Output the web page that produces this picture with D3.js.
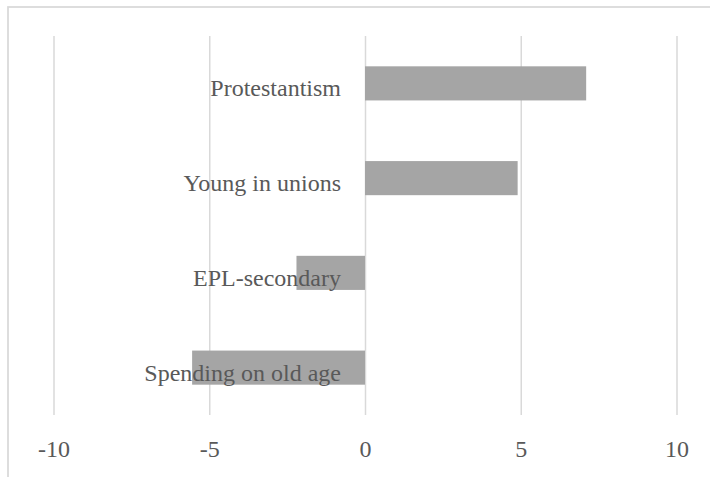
<!DOCTYPE html>
<html>
<head>
<meta charset="utf-8">
<script src="https://cdn.jsdelivr.net/npm/d3@7"></script>
<style>
  body { margin: 0; background: #fff; }
  svg { display: block; }
  text { font-family: "Liberation Serif", "Times New Roman", serif; fill: #595959; }
</style>
</head>
<body>
<svg id="chart" width="710" height="477"></svg>
<script>
// chart values
const categories = ["Protestantism", "Young in unions", "EPL-secondary", "Spending on old age"];
const values = [7.1, 4.9, -2.2, -5.55];
const tickValues = [-10, -5, 0, 5, 10];

const width = 710, height = 477;
const plot = { left: 53.5, right: 676.5, top: 36, bottom: 415 };

const svg = d3.select("#chart");

// outer frame (clipped by the window on the right and bottom)
svg.append("rect")
  .attr("x", 8)
  .attr("y", 7)
  .attr("width", 760)
  .attr("height", 520)
  .attr("fill", "none")
  .attr("stroke", "#d9d9d9")
  .attr("stroke-width", 1.75);

const x = d3.scaleLinear()
  .domain([-10, 10])
  .range([plot.left, plot.right]);

const y = d3.scaleBand()
  .domain(categories)
  .range([plot.top, plot.bottom])
  .paddingInner(0.64)
  .paddingOuter(0.32);

// gridlines + tick labels
const axis = svg.append("g")
  .attr("transform", `translate(0,${plot.bottom})`)
  .call(d3.axisBottom(x)
    .tickValues(tickValues)
    .tickSize(-(plot.bottom - plot.top))
    .tickFormat(d => String(d)));

axis.select(".domain").remove();
axis.selectAll(".tick line")
  .attr("stroke", "#d9d9d9")
  .attr("stroke-width", 1.5);
axis.selectAll(".tick text")
  .attr("y", 42)
  .attr("dy", 0)
  .attr("font-size", 24)
  .attr("fill", "#595959")
  .style("font-family", "'Liberation Serif', 'Times New Roman', serif");

// bars
svg.append("g")
  .selectAll("rect")
  .data(categories)
  .join("rect")
    .attr("x", (d, i) => x(Math.min(0, values[i])))
    .attr("y", d => y(d))
    .attr("width", (d, i) => Math.abs(x(values[i]) - x(0)))
    .attr("height", y.bandwidth())
    .attr("fill", "#a5a5a5");

// category labels sit just left of the zero line
svg.append("g")
  .selectAll("text")
  .data(categories)
  .join("text")
    .attr("x", x(0) - 24)
    .attr("y", d => y(d) + y.bandwidth() / 2 + 13)
    .attr("text-anchor", "end")
    .attr("font-size", 24)
    .text(d => d);
</script>
</body>
</html>
